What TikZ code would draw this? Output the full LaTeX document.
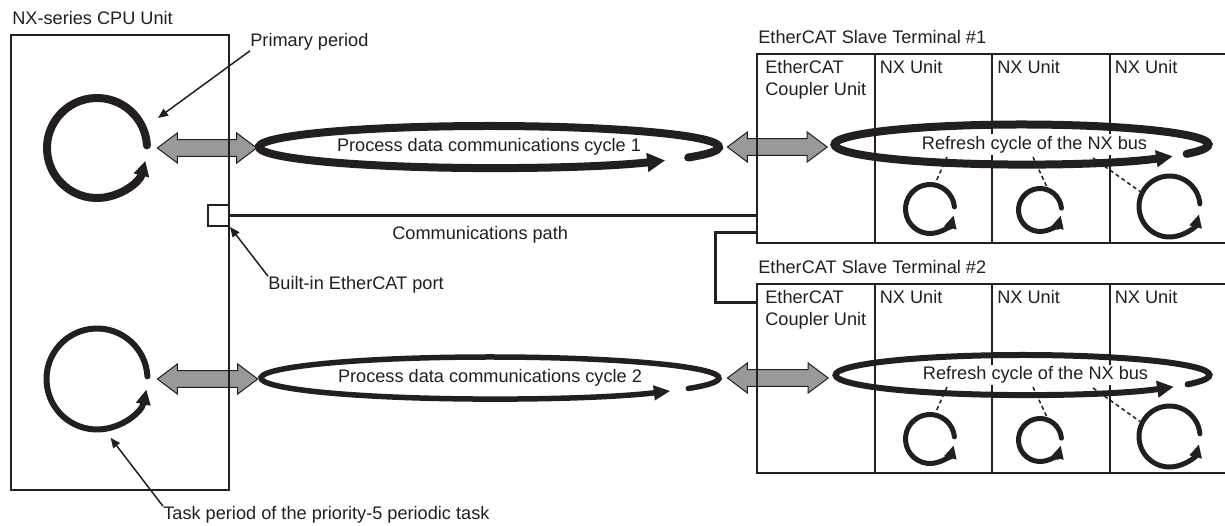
\documentclass[tikz,border=0pt]{standalone}
\usepackage{fontspec}
\setmainfont{Liberation Sans}
\usetikzlibrary{arrows.meta,positioning,calc,shapes.geometric}
\definecolor{ink}{RGB}{35,31,32}
\definecolor{pipegray}{RGB}{153,153,153}
\newcommand{\twoway}[2]{%
  \path[draw=ink,line width=0.6pt,fill=pipegray] let \p1=(#1),\p2=(#2) in
    (\x1,\y1) -- (\x1+12pt,\y1+9pt) -- (\x1+12pt,\y1+5pt) -- (\x2-12pt,\y1+5pt) -- (\x2-12pt,\y1+9pt) -- (\x2,\y1)
    -- (\x2-12pt,\y1-9pt) -- (\x2-12pt,\y1-5pt) -- (\x1+12pt,\y1-5pt) -- (\x1+12pt,\y1-9pt) -- cycle;}

\begin{document}
\begin{tikzpicture}[x=0.6pt,y=0.6pt,
  every node/.style={font=\fontsize{10.9}{13.2}\selectfont,text=ink,inner sep=0pt},
  frame/.style={draw=ink,line width=1.2pt},
  unit/.style={frame,minimum width=70.5pt,minimum height=113.4pt,anchor=north west},
  spot/.style={circle,minimum size=#1},
  hoop/.style={ellipse,minimum width=#1},
  wire/.style={draw=ink,line width=1.8pt},
  lead/.style={draw=ink,line width=0.9pt,-{Triangle[length=6pt,width=5pt]}},
  hint/.style={draw=ink,line width=0.9pt,dash pattern=on 2.4pt off 1.8pt},
  turn/.style={draw=ink,line width=#1,line cap=round}]
\useasboundingbox (0,0) rectangle (1225,-526);

\node[spot=72pt] (pp) at (97,-148) {};
\node[spot=72pt] (tp) at (97,-379) {};
\node[hoop=278.4pt,minimum height=30pt] (pdc1) at (489,-147) {Process data communications cycle 1};
\node[hoop=278.4pt,minimum height=27.6pt] (pdc2) at (490,-378) {Process data communications cycle 2};
\node[hoop=229.2pt,minimum height=28.8pt] (t1-bus) at (1021.5,-144.5) {};
\node[hoop=229.2pt,minimum height=27pt] (t2-bus) at (1022.5,-375) {};

\twoway{pp.east}{pdc1.west}
\twoway{$(pdc1.east)+(6,0)$}{$(t1-bus.west)+(-3,0)$}
\twoway{tp.east}{pdc2.west}
\twoway{$(pdc2.east)+(5,0)$}{$(t2-bus.west)+(-3,0)$}

\node[frame,minimum width=130.8pt,minimum height=273pt,anchor=north west] (cpu) at (10,-34) {};
\node[above right=5.4pt and 1.2pt of cpu.north west] (cpu-title) {NX-series CPU Unit};
\node[frame,fill=white,minimum size=12.6pt,anchor=east] (port) at (cpu.east |- 0,-215.5) {};

\node[anchor=west] (pp-lbl) at (250,-42) {Primary period};
\node[anchor=west] (port-lbl) at (268,-285) {Built-in EtherCAT port};
\node[anchor=west] (path-lbl) at (392,-235) {Communications path};
\node[anchor=west] (tp-lbl) at (163,-515) {Task period of the priority-5 periodic task};
\coordinate (pp-tip) at (158,-118);
\draw[lead] (pp-lbl.south west) -- (pp-tip);
\draw[lead] (port-lbl.north west) -- (port.south east);
\draw[lead] (tp-lbl.north west) -- (tp.-77);

\foreach \term/\dy/\lw in {1/0/4.8pt,2/230/3.6pt}{
  \foreach \c in {0,...,3}
    \node[unit] (t\term-u\c) at ({756+117.5*\c},{-53-\dy}) {};
  \node[above right=5.4pt and 1.2pt of t\term-u0.north west] (t\term-title) {EtherCAT Slave Terminal \#\term};
  \node[anchor=north west,align=left] (t\term-cpl) at ($(t\term-u0.north west)+(9,-7)$) {EtherCAT\\Coupler Unit};
  \foreach \c in {1,2,3}
    \node[anchor=north west] (t\term-nx\c) at ($(t\term-u\c.north west)+(6,-7)$) {NX Unit};
  \node[fill=white,inner sep=1pt] (t\term-bus-lbl) at ($(t\term-bus)+(13,0)$) {Refresh cycle of the NX bus};
  \foreach \c/\cx/\cy/\r/\ang/\sx/\sy in {1/930/209/24.5/78/947/157,2/1040/210/21.5/74/1033/157,3/1169.5/206.5/30.5/153/1093/158}{
    \node[spot={1.2pt*(\r+2.5)}] (t\term-n\c) at (\cx,{-\cy-\dy}) {};
    \coordinate (t\term-d\c) at (\sx,{-\sy-\dy});
    \draw[hint] (t\term-d\c) -- (t\term-n\c.\ang);
    \draw[turn=3pt,-{Triangle[length=7.8pt,width=7.2pt]}] ($(t\term-n\c)+(5:\r)$) arc[start angle=5,end angle=345,radius=\r];
  }
  \draw[turn=\lw,-{Triangle[length=10pt,width=9.6pt]}] ($(t\term-bus)+(-28:187 and 20)$) arc[start angle=-28,end angle=324,x radius=187,y radius=20];
}

\draw[wire] (port.east) -- (port.east -| t1-u0.west);
\draw[wire] ($(t1-u0.south west)+(0,11)$) -| ($(t2-u0.north west)+(-41,-20)$) -- ($(t2-u0.north west)+(0,-20)$);

\draw[turn=4.8pt,-{Triangle[length=9pt,width=9pt]}] ($(pp)+(3:50)$) arc[start angle=3,end angle=345,radius=50];
\draw[turn=3.6pt,-{Triangle[length=9pt,width=8.4pt]}] ($(tp)+(3:50.5)$) arc[start angle=3,end angle=348,radius=50.5];
\draw[turn=4.8pt,-{Triangle[length=10.8pt,width=10.8pt]}] ($(pdc1)+(-30:230 and 21)$) arc[start angle=-30,end angle=320,x radius=230,y radius=21];
\draw[turn=3.3pt,-{Triangle[length=10pt,width=8.4pt]}] ($(pdc2)+(-30:229 and 21)$) arc[start angle=-30,end angle=322,x radius=229,y radius=21];
\end{tikzpicture}
\end{document}
